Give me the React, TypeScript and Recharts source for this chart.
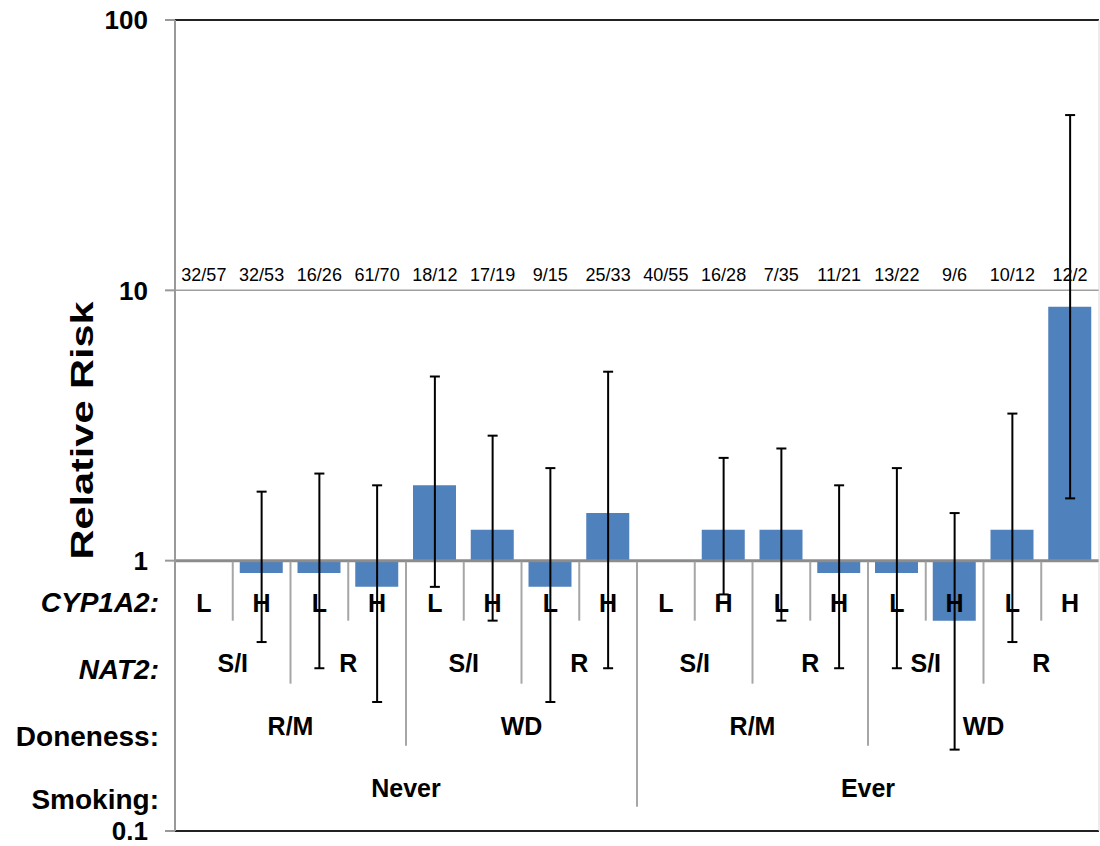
import React from 'react';
import { BarChart, Bar, Line, ErrorBar, XAxis, YAxis, CartesianGrid, ReferenceLine, ReferenceDot } from 'recharts';

const cyp1a2 = ['L', 'H', 'L', 'H', 'L', 'H', 'L', 'H', 'L', 'H', 'L', 'H', 'L', 'H', 'L', 'H'];
const nat2Labels = ['S/I', 'R', 'S/I', 'R', 'S/I', 'R', 'S/I', 'R'];
const donenessLabels = ['R/M', 'WD', 'R/M', 'WD'];
const smokingLabels = ['Never', 'Ever'];
const counts = ['32/57', '32/53', '16/26', '61/70', '18/12', '17/19', '9/15', '25/33', '40/55', '16/28', '7/35', '11/21', '13/22', '9/6', '10/12', '12/2'];
const relativeRisk = [1, 0.9, 0.9, 0.8, 1.9, 1.3, 0.8, 1.5, 1, 1.3, 1.3, 0.9, 0.9, 0.6, 1.3, 8.7];
const ciLower = [null, 0.5, 0.4, 0.3, 0.8, 0.6, 0.3, 0.4, null, 0.75, 0.6, 0.4, 0.4, 0.2, 0.5, 1.7];
const ciUpper = [null, 1.8, 2.1, 1.9, 4.8, 2.9, 2.2, 5.0, null, 2.4, 2.6, 1.9, 2.2, 1.5, 3.5, 44.5];
const yTicks = [0.1, 1, 10, 100];
const rowTitles = ['CYP1A2:', 'NAT2:', 'Doneness:', 'Smoking:'];

const data = cyp1a2.map((c, i) => ({
  key: `${smokingLabels[Math.floor(i / 8)]}-${donenessLabels[Math.floor(i / 4)]}-${nat2Labels[Math.floor(i / 2)]}-${c}-${i}`,
  cyp: c,
  count: counts[i],
  range: [1, relativeRisk[i]],
  rr: relativeRisk[i],
  err: ciLower[i] == null ? null : [relativeRisk[i] - (ciLower[i] as number), (ciUpper[i] as number) - relativeRisk[i]],
}));

const FONT = '"Liberation Sans", Arial, sans-serif';
const W = 1100;
const H = 846;
const M = { top: 20, right: 1, bottom: 0, left: 0 };
const Y_W = 175;
const X_H = 15;
const PLOT_TOP = M.top;
const PLOT_LEFT = M.left + Y_W;
const BAND = (W - M.right - PLOT_LEFT) / data.length;
const SEP = '#a6a6a6';

const CategoryTick = (props: any) => {
  const { x, y, index } = props;
  const one = y - (y - PLOT_TOP) / 3;
  const els: React.ReactNode[] = [];
  const bold = { fontFamily: FONT, fontWeight: 700, fill: '#000' } as const;
  els.push(
    <text key="c" x={x} y={one + 51} textAnchor="middle" fontSize={25} {...bold}>{cyp1a2[index]}</text>
  );
  if (index < data.length - 1) {
    const n = index + 1;
    const depth = n % 8 === 0 ? 246 : n % 4 === 0 ? 185 : n % 2 === 0 ? 123 : 60;
    els.push(<line key="s" x1={x + BAND / 2} x2={x + BAND / 2} y1={one + 1} y2={one + depth} stroke={SEP} strokeWidth={2} />);
  } else {
    els.push(<line key="r" x1={x + BAND / 2} x2={x + BAND / 2} y1={PLOT_TOP} y2={y} stroke="#d9d9d9" strokeWidth={1} />);
  }
  if (index % 2 === 0) {
    els.push(<text key="n" x={x + BAND / 2} y={one + 111} textAnchor="middle" fontSize={25} {...bold}>{nat2Labels[index / 2]}</text>);
  }
  if (index % 4 === 0) {
    els.push(<text key="d" x={x + 1.5 * BAND} y={one + 174} textAnchor="middle" fontSize={25} {...bold}>{donenessLabels[index / 4]}</text>);
  }
  if (index % 8 === 0) {
    els.push(<text key="m" x={x + 3.5 * BAND} y={one + 236} textAnchor="middle" fontSize={25} {...bold}>{smokingLabels[index / 8]}</text>);
  }
  if (index === 0) {
    const lx = PLOT_LEFT - 16;
    const ys = [one + 51, one + 118, one + 185, one + 248];
    rowTitles.forEach((t, k) => {
      els.push(
        <text key={'t' + k} x={lx} y={ys[k]} textAnchor="end" fontSize={28} fontStyle={k < 2 ? 'italic' : 'normal'} {...bold}>{t}</text>
      );
    });
  }
  return <g>{els}</g>;
};

const YTick = (props: any) => {
  const { x, y, payload } = props;
  const v = payload.value as number;
  const label = v < 1 ? String(v) : String(Math.round(v));
  return (
    <text x={x} y={y} dy="0.355em" textAnchor="end" fontSize={26} fontWeight={700} fill="#000" fontFamily={FONT}>
      {label}
    </text>
  );
};

const YLabel = (props: any) => {
  const vb = props.viewBox || {};
  const cx = (vb.x ?? 0) + 93;
  const cy = (vb.y ?? 0) + (vb.height ?? 0) / 2 + 5;
  return (
    <text x={cx} y={cy} transform={`rotate(-90, ${cx}, ${cy})`} textAnchor="middle" fontSize={32} fontWeight={700} fontFamily={FONT} fill="#000" textLength={258} lengthAdjust="spacingAndGlyphs">
      Relative Risk
    </text>
  );
};

export default function App() {
  return (
    <div style={{ position: 'absolute', left: 0, top: 0, width: W, height: H, background: '#fff' }}>
      <BarChart width={W} height={H} data={data} margin={M} barSize={43}>
        <CartesianGrid horizontal vertical={false} stroke="#a0a0a0" strokeWidth={1.5} />
        <XAxis
          dataKey="key"
          height={X_H}
          interval={0}
          axisLine={false}
          tickLine={false}
          tickSize={0}
          tickMargin={0}
          tick={<CategoryTick />}
        />
        <YAxis
          type="number"
          scale="log"
          domain={[0.1, 100]}
          ticks={yTicks}
          allowDataOverflow
          width={Y_W}
          axisLine={{ stroke: '#999', strokeWidth: 2 }}
          tickLine={{ stroke: '#999', strokeWidth: 2 }}
          tickSize={10}
          tickMargin={17}
          tick={<YTick />}
          label={<YLabel />}
        />
        <ReferenceLine y={100} stroke="#222" strokeWidth={2} />
        <ReferenceLine y={0.1} stroke="#222" strokeWidth={2} />
        <Bar dataKey="range" fill="#4f81bd" isAnimationActive={false} />
        <ReferenceLine y={1} stroke="#8c8c8c" strokeWidth={3} />
        <Line dataKey="rr" stroke="none" dot={false} activeDot={false} isAnimationActive={false}>
          <ErrorBar dataKey="err" direction="y" width={5} stroke="#000" strokeWidth={2} />
        </Line>
        {data.map((d) => (
          <ReferenceDot
            key={d.key}
            x={d.key}
            y={10}
            r={0}
            stroke="none"
            fill="none"
            label={{ value: d.count, position: 'top', offset: 9, fontSize: 18, fill: '#000', fontFamily: FONT }}
          />
        ))}
      </BarChart>
    </div>
  );
}
